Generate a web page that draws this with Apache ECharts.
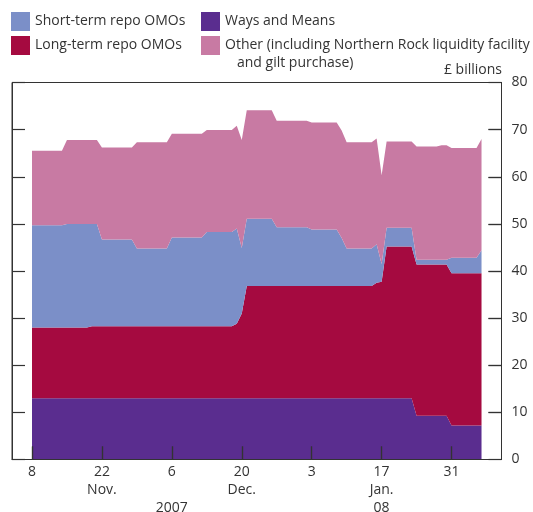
<!DOCTYPE html>
<html>
<head>
<meta charset="utf-8">
<script src="https://cdn.jsdelivr.net/npm/echarts@6/dist/echarts.min.js"></script>
<style>
  html, body { margin: 0; padding: 0; background: #fff; }
  #chart { width: 533px; height: 512px; }
</style>
</head>
<body>
<div id="chart"></div>
<script>
const dates = ['2007-11-08', '2007-11-14', '2007-11-15', '2007-11-19', '2007-11-20', '2007-11-21', '2007-11-22', '2007-11-28', '2007-11-29', '2007-12-05', '2007-12-06', '2007-12-12', '2007-12-13', '2007-12-18', '2007-12-19', '2007-12-20', '2007-12-21', '2007-12-26', '2007-12-27', '2008-01-02', '2008-01-03', '2008-01-08', '2008-01-09', '2008-01-10', '2008-01-15', '2008-01-16', '2008-01-17', '2008-01-18', '2008-01-23', '2008-01-24', '2008-01-28', '2008-01-29', '2008-01-30', '2008-01-31', '2008-02-05', '2008-02-06'];
// £ billions
const waysAndMeans = [13.0, 13.0, 13.0, 13.0, 13.0, 13.0, 13.0, 13.0, 13.0, 13.0, 13.0, 13.0, 13.0, 13.0, 13.0, 13.0, 13.0, 13.0, 13.0, 13.0, 13.0, 13.0, 13.0, 13.0, 13.0, 13.0, 13.0, 13.0, 13.0, 9.3, 9.3, 9.3, 9.3, 7.2, 7.2, 7.2];
const longTermRepo = [15.0, 15.0, 15.0, 15.0, 15.3, 15.3, 15.3, 15.3, 15.3, 15.3, 15.3, 15.3, 15.3, 15.3, 15.8, 18.0, 23.8, 23.8, 23.8, 23.8, 23.8, 23.8, 23.8, 23.8, 23.8, 24.5, 24.7, 32.2, 32.2, 32.1, 32.1, 32.1, 32.1, 32.3, 32.3, 32.3];
const shortTermRepo = [21.7, 21.7, 22.0, 22.0, 21.7, 21.7, 18.4, 18.4, 16.5, 16.5, 18.8, 18.8, 20.0, 20.0, 20.2, 13.9, 14.3, 14.3, 12.5, 12.5, 12.0, 12.0, 10.2, 8.0, 8.0, 8.2, 3.8, 4.0, 4.0, 1.0, 1.0, 1.0, 1.0, 3.3, 3.3, 4.9];
const otherFacilities = [15.8, 15.8, 17.8, 17.8, 17.8, 17.8, 19.5, 19.5, 22.5, 22.5, 22.0, 22.0, 21.6, 21.6, 21.8, 22.9, 23.0, 23.0, 22.6, 22.6, 22.7, 22.7, 22.8, 22.5, 22.5, 22.4, 18.8, 18.3, 18.3, 24.0, 24.0, 24.3, 24.3, 23.3, 23.3, 23.6];

const tickDates = ['2007-11-08', '2007-11-22', '2007-12-06', '2007-12-20', '2008-01-03', '2008-01-17', '2008-01-31'];
const tickLabels = ['8', '22', '6', '20', '3', '17', '31'];
const monthLabels = ['', 'Nov.', '', 'Dec.', '', 'Jan.', ''];
const yearLabels = ['', '', '2007', '', '', '08', ''];
const yTicks = [10, 20, 30, 40, 50, 60, 70];
const axisStart = '2007-11-04';
const axisEnd = '2008-02-10';

const seriesNames = {
  st: 'Short-term repo OMOs',
  lt: 'Long-term repo OMOs',
  wm: 'Ways and Means',
  ot: 'Other (including Northern Rock liquidity facility'
};

const FONT = '"Open Sans", "Noto Sans", sans-serif';
const TXT = '#333333';
const DAY = 86400000;
const Y_MAX = 80;

function ts(s) { return new Date(s + 'T00:00:00Z').getTime(); }
function iso(t) { return new Date(t).toISOString().slice(0, 10); }
const xMin = ts(axisStart), xMax = ts(axisEnd);
const axisDays = [];
for (let t = xMin; t <= xMax; t += DAY) axisDays.push(iso(t));

function mk(arr) { return dates.map((d, i) => [ts(d), arr[i]]); }
function isTick(idx, val) { return tickDates.indexOf(val) >= 0; }
function labelFor(val) {
  const i = tickDates.indexOf(val);
  if (i < 0) return '';
  const lines = [tickLabels[i]];
  if (monthLabels[i] || yearLabels[i]) lines.push(monthLabels[i]);
  if (yearLabels[i]) lines.push(yearLabels[i]);
  return lines.join('\n');
}

// tick marks (13px long, pointing into the plot) expressed in axis units
const GRID_W = 533 - 12 - 31.5, GRID_H = 512 - 82.5 - 52.5;
const tickLenY = 13 * Y_MAX / GRID_H;
const tickLenX = 13 * (xMax - xMin) / GRID_W;
const tickMarks = tickDates.map(d => [{ coord: [ts(d), 0] }, { coord: [ts(d), tickLenY] }])
  .concat(yTicks.map(v => [{ coord: [xMax - tickLenX, v] }, { coord: [xMax, v] }]));

function areaSeries(name, data, color, extra) {
  return Object.assign({
    name: name, type: 'line', stack: 'total', data: mk(data),
    xAxisIndex: 0, yAxisIndex: 0,
    symbol: 'none', showSymbol: false, color: color,
    lineStyle: { width: 0 }, areaStyle: { color: color, opacity: 1 },
    itemStyle: { color: color }, emphasis: { disabled: true }, z: 1
  }, extra || {});
}

const chart = echarts.init(document.getElementById('chart'), null, { renderer: 'canvas' });
chart.setOption({
  animation: false,
  backgroundColor: '#ffffff',
  textStyle: { fontFamily: FONT },
  grid: { left: 12, right: 31.5, top: 82.5, bottom: 52.5, outerBoundsMode: 'none', containLabel: false,
          show: true, borderColor: '#333', borderWidth: 1, backgroundColor: 'transparent' },
  legend: [
    { left: 11, top: 12, padding: 0, orient: 'vertical', icon: 'rect', itemWidth: 19, itemHeight: 19, itemGap: 5,
      textStyle: { fontFamily: FONT, fontSize: 14, color: TXT }, selectedMode: false,
      data: [seriesNames.st, seriesNames.lt] },
    { left: 201, top: 12, padding: 0, orient: 'vertical', icon: 'rect', itemWidth: 19, itemHeight: 19, itemGap: 5,
      textStyle: { fontFamily: FONT, fontSize: 14, color: TXT }, selectedMode: false,
      data: [seriesNames.wm, seriesNames.ot] }
  ],
  graphic: [
    { type: 'text', left: 237, top: 56, style: { text: 'and gilt purchase)', font: '14px ' + FONT, fill: TXT } },
    { type: 'text', right: 31, top: 63, style: { text: '£ billions', font: '14px ' + FONT, fill: TXT } }
  ],
  xAxis: [
    { type: 'time', min: xMin, max: xMax, show: false, position: 'bottom' },
    { type: 'category', data: axisDays, boundaryGap: false, position: 'bottom', z: 10,
      splitLine: { show: false },
      axisLine: { show: true, onZero: false, lineStyle: { color: '#333', width: 1 } },
      axisTick: { show: true, inside: true, length: 13, interval: isTick, lineStyle: { color: '#333', width: 1.2 } },
      axisLabel: { interval: isTick, formatter: labelFor, margin: 4, fontSize: 14, lineHeight: 18, color: TXT, fontFamily: FONT } }
  ],
  yAxis: [
    { type: 'value', position: 'right', min: 0, max: Y_MAX, interval: 10, z: 5,
      splitLine: { show: false },
      axisLine: { show: true, lineStyle: { color: '#333', width: 1 } },
      axisTick: { show: true, inside: true, length: 13, lineStyle: { color: '#333', width: 1.2 } },
      axisLabel: { margin: 10, fontSize: 14, color: TXT, fontFamily: FONT } },
    { type: 'value', position: 'left', min: 0, max: Y_MAX, interval: 10, z: 5,
      splitLine: { show: false },
      axisLine: { show: true, lineStyle: { color: '#333', width: 1 } },
      axisTick: { show: true, inside: true, length: 13, lineStyle: { color: '#333', width: 1.2 } },
      axisLabel: { show: false } }
  ],
  series: [
    areaSeries(seriesNames.wm, waysAndMeans, '#5a2d8f'),
    areaSeries(seriesNames.lt, longTermRepo, '#a50a40'),
    areaSeries(seriesNames.st, shortTermRepo, '#7b8fc8'),
    areaSeries(seriesNames.ot, otherFacilities, '#c87aa3', {
      markLine: {
        silent: true, symbol: ['none', 'none'], z: 10,
        label: { show: false }, emphasis: { disabled: true },
        lineStyle: { type: 'solid', color: '#333', width: 1.2, opacity: 1 },
        data: tickMarks
      }
    })
  ]
});
</script>
</body>
</html>
